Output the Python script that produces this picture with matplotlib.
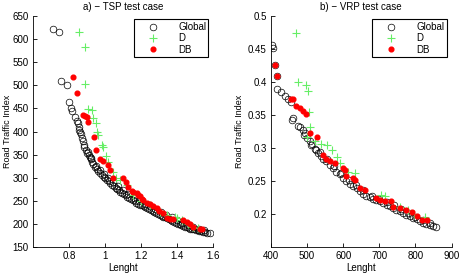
import matplotlib
matplotlib.use("Agg")
import matplotlib.pyplot as plt

plt.rcParams['font.family'] = ['Liberation Sans', 'DejaVu Sans']
plt.rcParams['font.size'] = 7

# ----------------------------------------------------------------------
# a) TSP test case  (Lenght, Road Traffic Index)
# ----------------------------------------------------------------------
tsp_global_x = [0.711, 0.745, 0.756, 0.789, 0.798, 0.813, 0.817, 0.832, 0.844, 0.848,
                0.854, 0.858, 0.863, 0.866, 0.872, 0.876, 0.881, 0.886, 0.894, 0.900,
                0.909, 0.915, 0.920, 0.928, 0.935, 0.946, 0.955, 0.963, 0.974, 0.985,
                0.992, 1.002, 1.010, 1.020, 1.030, 1.039, 1.050, 1.060, 1.068, 1.076,
                1.085, 1.095, 1.105, 1.115, 1.125, 1.135, 1.145, 1.155, 1.165, 1.175,
                1.185, 1.195, 1.205, 1.215, 1.225, 1.235, 1.245, 1.255, 1.265, 1.275,
                1.285, 1.295, 1.305, 1.315, 1.325, 1.335, 1.345, 1.355, 1.365, 1.375,
                1.385, 1.395, 1.405, 1.415, 1.425, 1.435, 1.445, 1.455, 1.465, 1.475,
                1.485, 1.495, 1.505, 1.515, 1.525, 1.535, 1.545, 1.555, 1.565, 1.583,
                0.905, 0.925, 0.950, 0.970, 0.995, 1.015, 1.045, 1.070, 1.100, 1.130,
                1.160, 1.190, 1.220, 1.250, 1.280, 1.310, 1.340, 1.370, 1.400, 1.430,
                1.460, 1.490, 1.520, 1.550]
tsp_global_y = [622, 615, 509, 500, 463, 450, 444, 432, 423, 419,
                410, 404, 400, 394, 385, 379, 371, 366, 360, 354,
                349, 344, 340, 335, 330, 324, 319, 315, 310, 305,
                302, 299, 296, 292, 288, 284, 281, 278, 276, 273,
                270, 267, 265, 262, 259, 256, 254, 251, 249, 246,
                244, 242, 240, 238, 236, 234, 232, 230, 228, 226,
                224, 222, 220, 218, 216, 214, 212, 210, 208, 206,
                204, 202, 200, 199, 197, 196, 194, 193, 192, 190,
                189, 188, 187, 186, 185, 184, 183, 182, 181, 180,
                356, 342, 326, 317, 308, 300, 290, 282, 273, 265,
                257, 250, 244, 238, 232, 226, 220, 215, 208, 203,
                198, 194, 190, 186]

tsp_d_x = [0.857, 0.889, 0.891, 0.907, 0.926, 0.931, 0.950, 0.954, 0.963, 0.981,
           0.990, 1.006, 1.018, 1.046, 1.060, 1.083, 1.120, 1.157, 1.200, 1.250,
           1.306, 1.343, 1.390, 1.398, 1.426, 1.460, 1.490, 1.518]
tsp_d_y = [615, 584, 502, 449, 447, 429, 419, 400, 392, 371,
           366, 347, 335, 313, 300, 295, 284, 263, 250, 241,
           226, 219, 214, 212, 208, 200, 194, 192]

tsp_db_x = [0.824, 0.846, 0.879, 0.890, 0.902, 0.907, 0.941, 0.948, 0.972, 0.990,
            1.018, 1.028, 1.043, 1.100, 1.117, 1.130, 1.150, 1.157, 1.176, 1.185,
            1.194, 1.205, 1.213, 1.232, 1.250, 1.268, 1.287, 1.300, 1.324, 1.343,
            1.360, 1.380, 1.435, 1.454, 1.470, 1.487, 1.528, 1.537]
tsp_db_y = [517, 483, 436, 434, 432, 421, 389, 361, 340, 337,
            327, 317, 300, 299, 291, 280, 272, 270, 266, 262,
            260, 255, 252, 246, 243, 239, 234, 228, 223, 212,
            211, 210, 208, 205, 200, 194, 190, 188]

# ----------------------------------------------------------------------
# b) VRP test case
# ----------------------------------------------------------------------
vrp_global_x = [402, 405, 411, 416, 417, 428, 438, 447, 456, 458,
                460, 475, 482, 488, 493, 500, 507, 511, 521, 526,
                530, 539, 544, 553, 563, 572, 581, 590, 600, 609,
                618, 627, 637, 646, 655, 664, 674, 683, 692, 701,
                711, 720, 729, 738, 747, 756, 766, 775, 784, 793,
                803, 812, 821, 830, 840, 849, 858,
                495, 515, 535, 555, 575, 595, 615, 635, 655, 680,
                700, 720, 740, 760, 780, 800, 820, 840]
vrp_global_y = [0.456, 0.452, 0.426, 0.409, 0.389, 0.385, 0.379, 0.374, 0.370, 0.343,
                0.345, 0.334, 0.332, 0.327, 0.320, 0.315, 0.310, 0.305, 0.298, 0.297,
                0.293, 0.288, 0.284, 0.281, 0.274, 0.270, 0.264, 0.260, 0.254, 0.250,
                0.246, 0.243, 0.239, 0.235, 0.231, 0.228, 0.226, 0.223, 0.221, 0.219,
                0.217, 0.214, 0.212, 0.209, 0.206, 0.204, 0.201, 0.199, 0.197, 0.194,
                0.192, 0.190, 0.187, 0.185, 0.183, 0.182, 0.181,
                0.323, 0.306, 0.294, 0.283, 0.272, 0.262, 0.252, 0.244, 0.236, 0.227,
                0.222, 0.218, 0.213, 0.207, 0.202, 0.196, 0.191, 0.186]

vrp_d_x = [469, 475, 497, 502, 505, 508, 499, 522, 540, 554,
           568, 582, 591, 614, 632, 706, 715, 756, 779, 797, 825]
vrp_d_y = [0.474, 0.400, 0.396, 0.387, 0.354, 0.332, 0.316, 0.311, 0.306, 0.305,
           0.297, 0.287, 0.278, 0.263, 0.262, 0.229, 0.227, 0.211, 0.206, 0.200, 0.195]

vrp_db_x = [411, 416, 456, 462, 471, 480, 489, 498, 508, 528,
            544, 553, 563, 577, 600, 604, 609, 627, 632, 646,
            660, 692, 701, 715, 733, 738, 756, 775, 789, 803, 817, 831]
vrp_db_y = [0.426, 0.409, 0.374, 0.374, 0.363, 0.360, 0.356, 0.352, 0.322, 0.316,
            0.289, 0.284, 0.281, 0.277, 0.269, 0.267, 0.257, 0.254, 0.252, 0.240,
            0.236, 0.224, 0.221, 0.219, 0.219, 0.211, 0.209, 0.206, 0.203, 0.197, 0.191, 0.191]

GREEN = '#66ee66'
RED = '#ff0000'


def draw_panel(ax, gx, gy, dx, dy, bx, by, title, ylab_x):
    ax.plot(gx, gy, 'o', mfc='none', mec='black', ms=4.8, mew=0.5, label='Global')
    ax.plot(dx, dy, '+', color=GREEN, ms=5.5, mew=0.8, label='D')
    ax.plot(bx, by, 'o', color=RED, mec=RED, ms=3.4, label='DB')
    ax.set_title(title, fontsize=7, pad=4)
    ax.set_xlabel('Lenght', labelpad=1)
    ax.set_ylabel('Road Traffic Index', fontsize=6.5)
    ax.yaxis.set_label_coords(ylab_x, 0.5)
    ax.spines['top'].set_visible(False)
    ax.spines['right'].set_visible(False)
    ax.tick_params(direction='in', length=3, width=0.6, labelsize=7, pad=3)
    for s in ax.spines.values():
        s.set_linewidth(0.6)
    leg = ax.legend(loc='upper right', bbox_to_anchor=(0.975, 0.985), fontsize=7,
                    frameon=True, fancybox=False, edgecolor='black', framealpha=1,
                    handlelength=3.4, handletextpad=0.9, labelspacing=0.15,
                    borderpad=0.25, borderaxespad=0, numpoints=1)
    leg.get_frame().set_linewidth(0.8)


fig = plt.figure(figsize=(4.59, 2.76), dpi=100)
ax1 = fig.add_axes([0.0719, 0.105, 0.392, 0.837])
ax2 = fig.add_axes([0.590, 0.105, 0.394, 0.837])

draw_panel(ax1, tsp_global_x, tsp_global_y, tsp_d_x, tsp_d_y, tsp_db_x, tsp_db_y,
           'a) \u2212 TSP test case', -0.118)
ax1.set_xlim(0.6, 1.6)
ax1.set_ylim(150, 650)
ax1.set_xticks([0.8, 1.0, 1.2, 1.4, 1.6])
ax1.set_xticklabels(['0.8', '1', '1.2', '1.4', '1.6'])
ax1.set_yticks(range(150, 651, 50))

draw_panel(ax2, vrp_global_x, vrp_global_y, vrp_d_x, vrp_d_y, vrp_db_x, vrp_db_y,
           'b) \u2212 VRP test case', -0.148)
ax2.set_xlim(400, 900)
ax2.set_ylim(0.15, 0.5)
ax2.set_xticks(range(400, 901, 100))
ax2.set_yticks([0.2, 0.25, 0.3, 0.35, 0.4, 0.45, 0.5])
ax2.set_yticklabels(['0.2', '0.25', '0.3', '0.35', '0.4', '0.45', '0.5'])

fig.savefig('out.png', dpi=100)
